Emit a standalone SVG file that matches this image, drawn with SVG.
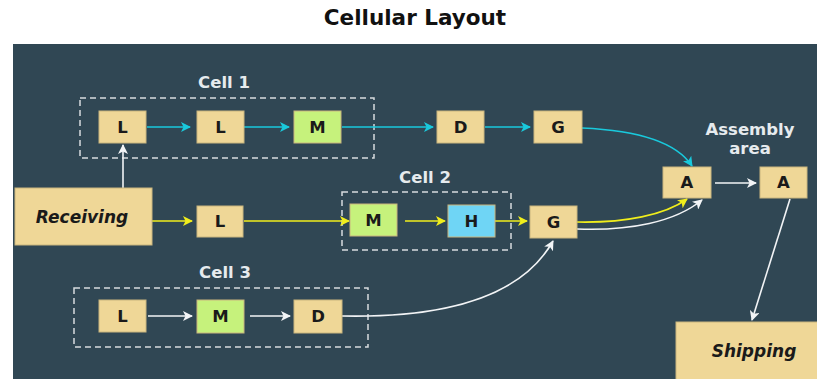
<svg xmlns="http://www.w3.org/2000/svg" width="817" height="379" viewBox="0 0 817 379">
  <defs>
    <marker id="ah-cyan" viewBox="0 0 10 10" refX="9" refY="5" markerWidth="10" markerHeight="10" markerUnits="userSpaceOnUse" orient="auto">
      <path d="M0,0 L10,5 L0,10 L2.5,5 Z" fill="#19c9dc"/>
    </marker>
    <marker id="ah-yellow" viewBox="0 0 10 10" refX="9" refY="5" markerWidth="10" markerHeight="10" markerUnits="userSpaceOnUse" orient="auto">
      <path d="M0,0 L10,5 L0,10 L2.5,5 Z" fill="#f0ee1c"/>
    </marker>
    <marker id="ah-white" viewBox="0 0 10 10" refX="9" refY="5" markerWidth="10" markerHeight="10" markerUnits="userSpaceOnUse" orient="auto">
      <path d="M0,0 L10,5 L0,10 L2.5,5 Z" fill="#f2f4f6"/>
    </marker>
  </defs>
  <style>
    .title { font-family: "DejaVu Sans", sans-serif; font-weight: bold; font-size: 21.5px; fill: #111; }
    .label { font-family: "DejaVu Sans", sans-serif; font-weight: bold; font-size: 16.5px; fill: #e6ebee; text-anchor: middle; }
    .box { stroke: #c9b67e; stroke-width: 1; }
    .tan { fill: #efd797; }
    .green { fill: #c6f27c; }
    .blue { fill: #6fd5f5; }
    .t { font-family: "DejaVu Sans", sans-serif; font-weight: bold; font-size: 16.5px; fill: #1a1a1a; text-anchor: middle; }
    .big { font-family: "DejaVu Sans", sans-serif; font-weight: bold; font-style: oblique; font-size: 17px; fill: #1a1a1a; text-anchor: middle; }
    .cell { fill: none; stroke: #d6dbde; stroke-width: 1.5; stroke-dasharray: 6 4; }
    .cyan { fill: none; stroke: #19c9dc; stroke-width: 1.6; marker-end: url(#ah-cyan); }
    .yellow { fill: none; stroke: #f0ee1c; stroke-width: 1.6; marker-end: url(#ah-yellow); }
    .white { fill: none; stroke: #f2f4f6; stroke-width: 1.6; marker-end: url(#ah-white); }
  </style>

  <rect width="817" height="379" fill="#ffffff"/>
  <text class="title" x="415" y="25" text-anchor="middle">Cellular Layout</text>
  <rect x="13" y="44" width="804" height="335" fill="#304754"/>

  <!-- cell outlines and captions -->
  <g id="cells">
    <rect class="cell" x="80" y="98" width="294" height="60"/>
    <text class="label" x="224" y="88">Cell 1</text>
    <rect class="cell" x="342" y="192" width="169" height="58"/>
    <text class="label" x="425" y="183">Cell 2</text>
    <rect class="cell" x="74" y="288" width="294" height="59"/>
    <text class="label" x="225" y="278">Cell 3</text>
    <text class="label" x="750" y="135" font-size="17">Assembly</text>
    <text class="label" x="750" y="154" font-size="17">area</text>
  </g>

  <!-- connectors -->
  <g id="connectors">
    <path class="cyan" d="M147,127 L190,127"/>
    <path class="cyan" d="M244,127 L289,127"/>
    <path class="cyan" d="M342,127 L433,127"/>
    <path class="cyan" d="M485,127 L530,127"/>
    <path class="cyan" d="M582,128 C630,130 675,140 692,166"/>
    <path class="white" d="M123,188 L123,145"/>
    <path class="yellow" d="M152,221 L192,221"/>
    <path class="yellow" d="M244,221 L349,221"/>
    <path class="yellow" d="M405,221 L445,221"/>
    <path class="yellow" d="M490,221 L527,221"/>
    <path class="yellow" d="M577,222 C625,223 665,215 687,199"/>
    <path class="white" d="M577,229 C630,231 675,222 702,200"/>
    <path class="white" d="M715,183 L756,183"/>
    <path class="white" d="M148,316 L192,316"/>
    <path class="white" d="M250,316 L290,316"/>
    <path class="white" d="M342,316 C440,318 520,300 553,241"/>
    <path class="white" d="M790,199 L752,320"/>
  </g>

  <!-- nodes -->
  <g id="cell1-L1"><rect class="box tan" x="99" y="111" width="47" height="32"/><text class="t" x="122.5" y="133">L</text></g>
  <g id="cell1-L2"><rect class="box tan" x="197" y="111" width="47" height="32"/><text class="t" x="220.5" y="133">L</text></g>
  <g id="cell1-M"><rect class="box green" x="294" y="111" width="47" height="32"/><text class="t" x="317.5" y="133">M</text></g>
  <g id="D1"><rect class="box tan" x="437" y="111" width="47" height="32"/><text class="t" x="460.5" y="133">D</text></g>
  <g id="G1"><rect class="box tan" x="534" y="111" width="48" height="32"/><text class="t" x="558" y="133">G</text></g>
  <g id="receiving"><rect class="box tan" x="15" y="188" width="137" height="57"/><text class="big" x="82" y="223">Receiving</text></g>
  <g id="L-row2"><rect class="box tan" x="197" y="206" width="46" height="31"/><text class="t" x="220" y="227">L</text></g>
  <g id="cell2-M"><rect class="box green" x="350" y="204" width="47" height="32"/><text class="t" x="373.5" y="226">M</text></g>
  <g id="cell2-H"><rect class="box blue" x="448" y="205" width="47" height="32"/><text class="t" x="471.5" y="227">H</text></g>
  <g id="G2"><rect class="box tan" x="530" y="206" width="47" height="32"/><text class="t" x="553.5" y="228">G</text></g>
  <g id="A1"><rect class="box tan" x="663" y="167" width="48" height="31"/><text class="t" x="687" y="188">A</text></g>
  <g id="A2"><rect class="box tan" x="760" y="167" width="47" height="31"/><text class="t" x="783.5" y="188">A</text></g>
  <g id="cell3-L"><rect class="box tan" x="99" y="300" width="47" height="32"/><text class="t" x="122.5" y="322">L</text></g>
  <g id="cell3-M"><rect class="box green" x="197" y="300" width="47" height="33"/><text class="t" x="220.5" y="322">M</text></g>
  <g id="cell3-D"><rect class="box tan" x="294" y="300" width="48" height="33"/><text class="t" x="318" y="322">D</text></g>
  <g id="shipping"><rect class="box tan" x="676" y="322" width="145" height="60"/><text class="big" x="754" y="357" font-size="17.5">Shipping</text></g>
</svg>
